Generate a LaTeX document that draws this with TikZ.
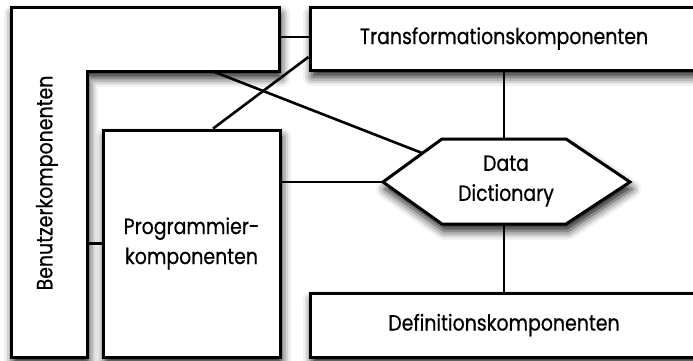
\documentclass[tikz,border=0pt]{standalone}
\usepackage{fontspec}
\setmainfont{Poppins}[FakeStretch=0.86,FakeBold=0.6]
\usetikzlibrary{positioning,calc,shadows.blur}

\begin{document}
\begin{tikzpicture}[x=1pt,y=-1pt,font=\fontsize{22}{30}\selectfont,
    box/.style={draw,line width=3pt,fill=white,
      blur shadow={shadow xshift=2pt,shadow yshift=-7pt,shadow blur radius=9pt,shadow opacity=90}},
    conn/.style={line width=2.6pt},
    lbl/.style={align=center,inner sep=0pt}]
  \useasboundingbox (0,0) rectangle (693,360);
  % Benutzerkomponenten (L-Form)
  \draw[box] (11,7) -- (279,7) -- (279,71) -- (87,71) -- (87,357) -- (11,357) -- cycle;
  \node[lbl,rotate=90] (ben) at (47,183) {Benutzerkomponenten};
  \coordinate (benR) at (279,37);
  \coordinate (benC) at (212,71);
  \coordinate (benI) at (87,243);
  % Kaesten
  \node[box,minimum width=388pt,minimum height=63pt] (trans) at (504,38.5) {Transformationskomponenten};
  \node[box,align=center,minimum width=177pt,minimum height=227pt] (prog) at (191.5,243.5) {Programmier-\\komponenten};
  % Data Dictionary
  \coordinate (ddW) at (383,182);
  \coordinate (ddNW) at (442,139);
  \coordinate (ddNE) at (566,139);
  \coordinate (ddE) at (630,182);
  \coordinate (ddSE) at (566,224);
  \coordinate (ddSW) at (442,224);
  \draw[box] (ddW) -- (ddNW) -- (ddNE) -- (ddE) -- (ddSE) -- (ddSW) -- cycle;
  \node[lbl] (dd) at (506,181) {Data\\Dictionary};
  \node[box,minimum width=388pt,minimum height=64pt] (defin) at (504,325) {Definitionskomponenten};
  % Verbindungen
  \draw[conn] (benR) -- (benR -| trans.west);
  \draw[conn] ($(prog.north west)!0.62!(prog.north east)$) -- ($(trans.south west)!0.22!(trans.north west)$);
  \draw[conn] (benC) -- ($(ddW)!0.67!(ddNW)$);
  \draw[conn] (prog.east |- ddW) -- (ddW);
  \draw[conn] (trans.south) -- (trans.south |- ddNW);
  \draw[conn] (defin.north |- ddSW) -- (defin.north);
  \draw[conn] (benI |- prog.west) -- (prog.west);
\end{tikzpicture}
\end{document}
